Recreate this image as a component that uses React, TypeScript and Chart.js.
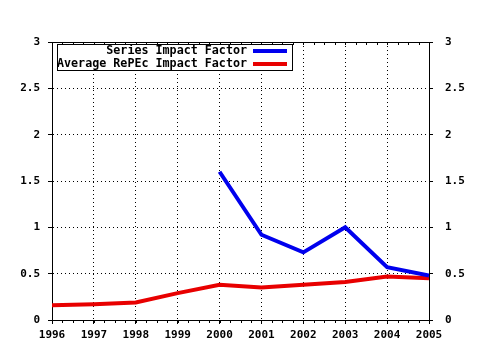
import React, { useEffect, useRef } from "react";
import { Chart, registerables } from "chart.js";

Chart.register(...registerables);

const years = [1996, 1997, 1998, 1999, 2000, 2001, 2002, 2003, 2004, 2005];
const seriesImpact: (number | null)[] = [null, null, null, null, 1.6, 0.92, 0.73, 1.0, 0.57, 0.48];
const averageImpact = [0.16, 0.17, 0.19, 0.29, 0.38, 0.35, 0.38, 0.41, 0.47, 0.45];
const seriesLabels = ["Series Impact Factor", "Average RePEc Impact Factor"];
const seriesColors = ["#0000ee", "#e80000"];

const FONT_FAMILY = "'DejaVu Sans Mono', 'Liberation Mono', monospace";

const decorPlugin = {
  id: "decor",
  afterDraw(chart: any) {
    const { ctx, chartArea } = chart;
    const xs = chart.scales.x;
    ctx.save();
    ctx.strokeStyle = "#000";
    ctx.lineWidth = 1;
    // top border
    ctx.beginPath();
    ctx.moveTo(chartArea.left, chartArea.top + 0.5);
    ctx.lineTo(chartArea.right, chartArea.top + 0.5);
    ctx.stroke();
    // minor ticks
    const first = years[0];
    const last = years[years.length - 1];
    ctx.beginPath();
    for (let v = first; v <= last + 1e-9; v += 0.25) {
      const px = Math.round(xs.getPixelForValue(v)) + 0.5;
      ctx.moveTo(px, chartArea.top);
      ctx.lineTo(px, chartArea.top + 3);
      ctx.moveTo(px, chartArea.bottom);
      ctx.lineTo(px, chartArea.bottom + 3);
    }
    ctx.stroke();

    // legend box
    const bx = 57, by = 44, bw = 235, bh = 26;
    ctx.fillStyle = "#fff";
    ctx.fillRect(bx, by, bw, bh);
    ctx.strokeRect(bx + 0.5, by + 0.5, bw, bh);
    ctx.font = `bold 11.7px ${FONT_FAMILY}`;
    ctx.textAlign = "right";
    ctx.textBaseline = "middle";
    ctx.fillStyle = "#000";
    chart.data.datasets.forEach((ds: any, i: number) => {
      const y = by + 7 + i * 13;
      ctx.fillText(ds.label, 247, y);
      ctx.strokeStyle = ds.borderColor;
      ctx.lineWidth = 4;
      ctx.beginPath();
      ctx.moveTo(253, y);
      ctx.lineTo(287, y);
      ctx.stroke();
    });
    ctx.restore();
  },
};

const fmt = (v: any) => String(Number(v));

export default function App() {
  const ref = useRef<HTMLCanvasElement | null>(null);
  useEffect(() => {
    document.body.style.margin = "0";
    if (!ref.current) return;
    const tickFont = { family: FONT_FAMILY, size: 11, weight: "bold" as const };
    const chart = new Chart(ref.current, {
      type: "line",
      data: {
        datasets: [
          {
            label: seriesLabels[0],
            data: years.map((y, i) => ({ x: y, y: seriesImpact[i] })) as any,
            borderColor: seriesColors[0],
            borderWidth: 4,
            pointRadius: 0,
            tension: 0,
            spanGaps: false,
          },
          {
            label: seriesLabels[1],
            data: years.map((y, i) => ({ x: y, y: averageImpact[i] })) as any,
            borderColor: seriesColors[1],
            borderWidth: 4,
            pointRadius: 0,
            tension: 0,
          },
        ],
      },
      options: {
        animation: false,
        responsive: false,
        maintainAspectRatio: false,
        layout: { padding: { top: 42, left: 0, right: 0, bottom: 0 } },
        plugins: { legend: { display: false }, tooltip: { enabled: false } },
        scales: {
          x: {
            type: "linear",
            min: 1996,
            max: 2005,
            ticks: {
              stepSize: 1,
              color: "#000",
              font: tickFont,
              padding: 5,
              maxRotation: 0,
              autoSkip: false,
              callback: fmt,
            },
            grid: { color: "#000", tickLength: 4, tickBorderDash: [] as any },
            border: { color: "#000", dash: [1, 3] },
            afterFit: (s: any) => { s.height = 30; },
          },
          y: {
            position: "left",
            min: 0,
            max: 3,
            ticks: { stepSize: 0.5, color: "#000", font: tickFont, padding: 8, callback: fmt },
            grid: { color: "#000", tickLength: 4, tickBorderDash: [] as any },
            border: { color: "#000", dash: [1, 3] },
            afterFit: (s: any) => { s.width = 52; },
          },
          y2: {
            position: "right",
            min: 0,
            max: 3,
            ticks: { stepSize: 0.5, color: "#000", font: tickFont, padding: 12, callback: fmt },
            grid: { color: "#000", tickLength: 4, drawOnChartArea: false },
            border: { color: "#000" },
            afterFit: (s: any) => { s.width = 51; },
          },
        },
      },
      plugins: [decorPlugin],
    });
    return () => chart.destroy();
  }, []);
  return <canvas ref={ref} width={480} height={350} style={{ display: "block" }} />;
}
